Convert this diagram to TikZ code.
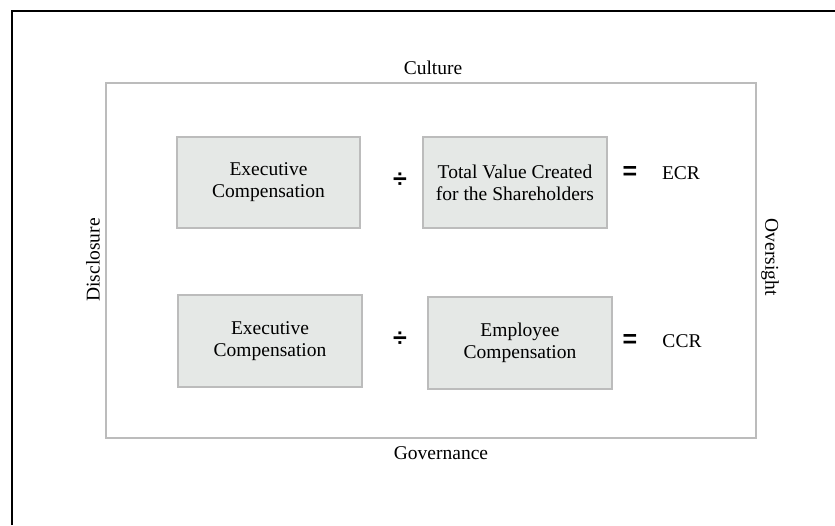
\documentclass[tikz,border=0pt]{standalone}
\usepackage{fontspec}
\setmainfont{Liberation Serif}
\newfontfamily\symfont{Liberation Sans}
\usetikzlibrary{positioning}
\definecolor{boxfill}{HTML}{E5E8E6}
\definecolor{boxline}{HTML}{BCBCBC}
\tikzset{x=1pt, y=1pt,
ratiobox/.style={ % Sets the properties for each term box
draw=boxline,
line width=1.8pt,
fill=boxfill,
minimum width=183pt,
minimum height=91pt,
inner sep=0pt,
align=center,
font=\fontsize{19.5}{22}\selectfont},
opsign/.style={ % Operators between the boxes
font=\symfont\bfseries\fontsize{25}{26}\selectfont},
sidelabel/.style={
font=\fontsize{19.5}{22}\selectfont}}

\begin{document}
\begin{tikzpicture}
	\useasboundingbox (0,0) rectangle (835,525);
	\draw[line width=2pt] (12,0) -- (12,514) -- (835,514);
	\draw[boxline, line width=2pt] (106,87) rectangle (756,442);
	% frame labels
	\node[sidelabel] (culture) at (433,457) {Culture};
	\node[sidelabel] (gov) at (441,72) {Governance};
	\node[sidelabel, rotate=90] (discl) at (93,265) {Disclosure};
	\node[sidelabel, rotate=-90] (overs) at (770,268) {Oversight};
	% first ratio
	\node[ratiobox] (exec1) at (268.5,342.5) {Executive\\Compensation};
	\node[opsign] (div1) at (400,345) {÷};
	\node[ratiobox, minimum width=184pt] (tvc) at (515,342.5) {Total Value Created\\for the Shareholders};
	\node[opsign] (eq1) at (630,352) {=};
	\node[sidelabel] (ecr) at (681,352) {ECR};
	% second ratio
	\node[ratiobox, minimum width=184pt, minimum height=92pt] (exec2) at (270,184) {Executive\\Compensation};
	\node[opsign] (div2) at (400,186) {÷};
	\node[ratiobox, minimum width=184pt, minimum height=92pt] (emp) at (520,182) {Employee\\Compensation};
	\node[opsign] (eq2) at (630,184) {=};
	\node[sidelabel] (ccr) at (682,184) {CCR};
\end{tikzpicture}
\end{document}
